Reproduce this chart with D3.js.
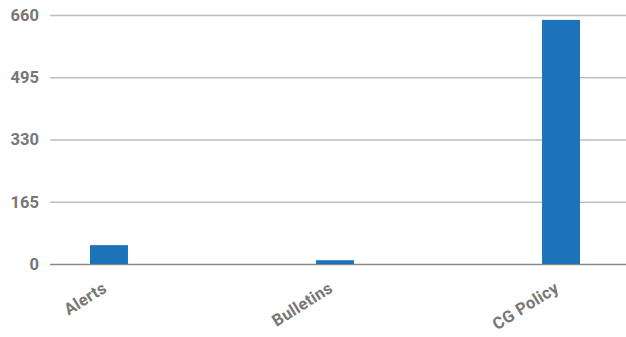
<!DOCTYPE html>
<html>
<head>
<meta charset="utf-8">
<script src="https://cdn.jsdelivr.net/npm/d3@7"></script>
<style>
  body { margin: 0; background: #fff; }
  svg text { font-family: Roboto, "Liberation Sans", sans-serif; font-weight: bold; fill: #777777; }
</style>
</head>
<body>
<svg id="chart" width="626" height="337"></svg>
<script>
// Chart data
const categories = ["Alerts", "Bulletins", "CG Policy"];
const counts = [50, 10, 647];
const yTicks = [0, 165, 330, 495, 660];

const W = 626, H = 337;
const margin = { top: 15, right: 0, bottom: 73, left: 50 };

const svg = d3.select("#chart");

const x = d3.scaleBand()
  .domain(categories)
  .range([margin.left, 620])
  .paddingInner(0.832)
  .paddingOuter(0.177);

const y = d3.scaleLinear()
  .domain([0, 660])
  .range([H - margin.bottom, margin.top]);

// gridlines
svg.append("g")
  .selectAll("line")
  .data(yTicks)
  .join("line")
    .attr("x1", margin.left)
    .attr("x2", W)
    .attr("y1", d => y(d) + 0.5)
    .attr("y2", d => y(d) + 0.5)
    .attr("stroke", d => d === 0 ? "#8a8a8a" : "#bdbdbd")
    .attr("stroke-width", 1.3);

// y labels
svg.append("g")
  .selectAll("text")
  .data(yTicks)
  .join("text")
    .attr("x", 39)
    .attr("y", d => y(d))
    .attr("dy", "0.35em")
    .attr("text-anchor", "end")
    .style("font-size", "16.5px")
    .text(d => d);

// bars
svg.append("g")
  .selectAll("rect")
  .data(categories)
  .join("rect")
    .attr("x", d => x(d))
    .attr("width", x.bandwidth())
    .attr("y", (d, i) => y(counts[i]))
    .attr("height", (d, i) => y(0) - y(counts[i]))
    .attr("fill", "#1b73ba");

// x labels
svg.append("g")
  .selectAll("text")
  .data(categories)
  .join("text")
    .attr("transform", d => `translate(${x(d) + x.bandwidth() / 2 - 1},${y(0) + 27}) rotate(-32)`)
    .attr("text-anchor", "end")
    .style("font-size", "16.5px")
    .style("letter-spacing", "0.3px")
    .text(d => d);
</script>
</body>
</html>
